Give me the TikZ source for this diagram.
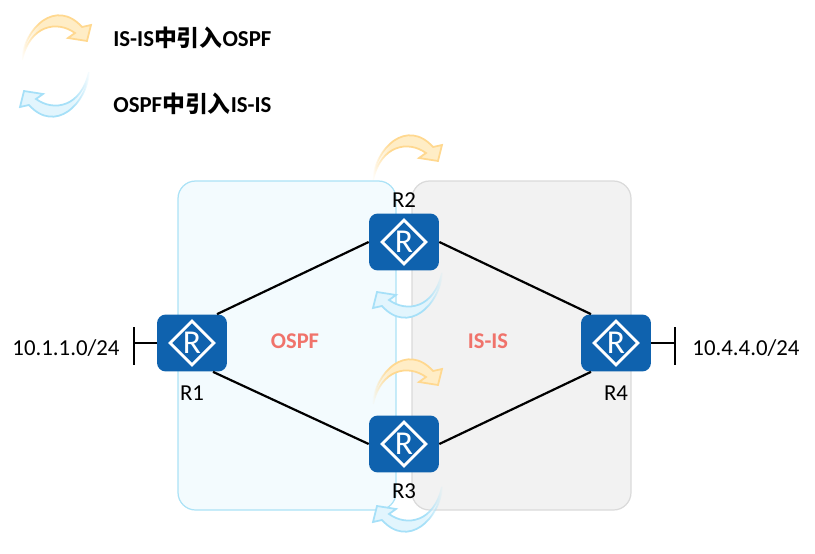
\documentclass[tikz,border=0pt]{standalone}
\usepackage{fontspec}
\setmainfont{Carlito}
\newfontfamily\cjk{Noto Sans CJK SC}
\usetikzlibrary{arrows,shapes.geometric,fadings}
\definecolor{routerblue}{HTML}{0F62AE}
\definecolor{ospfline}{HTML}{ABE2F6}
\definecolor{ospffill}{HTML}{F3FBFE}
\definecolor{isisline}{HTML}{DADADA}
\definecolor{isisfill}{HTML}{F2F2F2}
\definecolor{areatext}{HTML}{F0736B}
\definecolor{yellowline}{HTML}{FFD88F}
\definecolor{yellowfill}{HTML}{FFEDC6}
\definecolor{blueline}{HTML}{A6E0F8}
\definecolor{bluefill}{HTML}{E2F5FD}
\pgfdeclarehorizontalshading{tailshade}{100bp}{color(0bp)=(pgftransparent!100); color(25bp)=(pgftransparent!100); color(38bp)=(pgftransparent!0); color(100bp)=(pgftransparent!0)}
\pgfdeclarehorizontalshading{tailshadeb}{100bp}{color(0bp)=(pgftransparent!0); color(62bp)=(pgftransparent!0); color(75bp)=(pgftransparent!100); color(100bp)=(pgftransparent!100)}
\pgfdeclarefading{fadetail}{\pgfuseshading{tailshade}}
\pgfdeclarefading{fadetailb}{\pgfuseshading{tailshadeb}}
\tikzset{router/.style={draw=none,fill=routerblue,rounded corners=5pt,minimum width=1.4cm,minimum height=1.14cm,inner sep=0pt}}
\tikzset{routermark/.style={draw=white,line width=1.7pt,diamond,shape aspect=1,minimum size=0.9cm,inner sep=0pt,text=white,font=\fontsize{19}{19}\selectfont}}
\tikzset{area/.style={line width=0.7pt,rounded corners=10pt}}
\tikzset{areaname/.style={text=areatext,font=\bfseries\fontsize{12.8}{13}\selectfont}}
\tikzset{plain/.style={font=\fontsize{13}{14}\selectfont,inner sep=0pt}}
\tikzset{legend/.style={font=\bfseries\fontsize{13}{14}\selectfont,inner sep=0pt,anchor=west}}
\tikzset{link/.style={black,line width=1.25pt}}
\tikzset{yellowarrow/.style={draw=yellowline,line width=1pt,fill=yellowfill,path fading=fadetail}}
\tikzset{bluearrow/.style={draw=blueline,line width=1pt,fill=bluefill,path fading=fadetailb}}
\tikzset{pics/swoosh/.style={code={
\draw[#1] (0,0) .. controls (2,-32) and (34,-62) .. (60,-33) -- (69,-35) -- (65,-19) -- (46,-22) -- (53,-27) .. controls (35,-40) and (8,-35) .. (0,0) -- cycle;
}}}

\begin{document}
\begin{tikzpicture}[x=0.02cm,y=-0.02cm]
\useasboundingbox (0,0) rectangle (815,554);

\draw[area,draw=ospfline,fill=ospffill] (178,181) rectangle (396,510);
\draw[area,draw=isisline,fill=isisfill] (412,181) rectangle (631,510);

\node[areaname] (ospfname) at (295,341) {OSPF};
\node[areaname] (isisname) at (488,341) {IS-IS};

\pic at (22,60) {swoosh=yellowarrow};
\pic[rotate=180] at (89,72) {swoosh=bluearrow};
\pic at (373,180) {swoosh=yellowarrow};
\pic[rotate=180] at (442,273) {swoosh=bluearrow};
\pic at (373,404) {swoosh=yellowarrow};
\pic[rotate=180] at (442,487) {swoosh=bluearrow};

\node[legend] (legendone) at (113,38) {IS-IS{\cjk\bfseries 中引入}OSPF};
\node[legend] (legendtwo) at (113,104) {OSPF{\cjk\bfseries 中引入}IS-IS};

\node[router] (R1) at (192,343) {};
\node[router] (R2) at (404,242) {};
\node[router] (R3) at (404,444) {};
\node[router] (R4) at (616,343) {};
\node[routermark] (m1) at (R1) {R};
\node[routermark] (m2) at (R2) {R};
\node[routermark] (m3) at (R3) {R};
\node[routermark] (m4) at (R4) {R};

\node[plain] (l1) at (192,393) {R1};
\node[plain] (l2) at (404,200) {R2};
\node[plain] (l3) at (404,491) {R3};
\node[plain] (l4) at (616,393) {R4};

\node[plain] (net1) at (66,348) {10.1.1.0/24};
\node[plain] (net4) at (746,348) {10.4.4.0/24};

\coordinate (s1) at (134,343);
\coordinate (s1a) at (134,327);
\coordinate (s1b) at (134,365);
\coordinate (s4) at (675,343);
\coordinate (s4a) at (675,327);
\coordinate (s4b) at (675,365);

\draw[link] ([xshift=0.5cm]R1.north) -- (R2.west);
\draw[link] ([xshift=0.42cm]R1.south) -- (R3.west);
\draw[link] (R2.east) -- ([xshift=-0.5cm]R4.north);
\draw[link] (R3.east) -- ([xshift=-0.5cm]R4.south);
\draw[link] (s1) -- (R1.west);
\draw[link] (s4) -- (R4.east);
\draw[link] (s1a) -- (s1b);
\draw[link] (s4a) -- (s4b);
\end{tikzpicture}
\end{document}
